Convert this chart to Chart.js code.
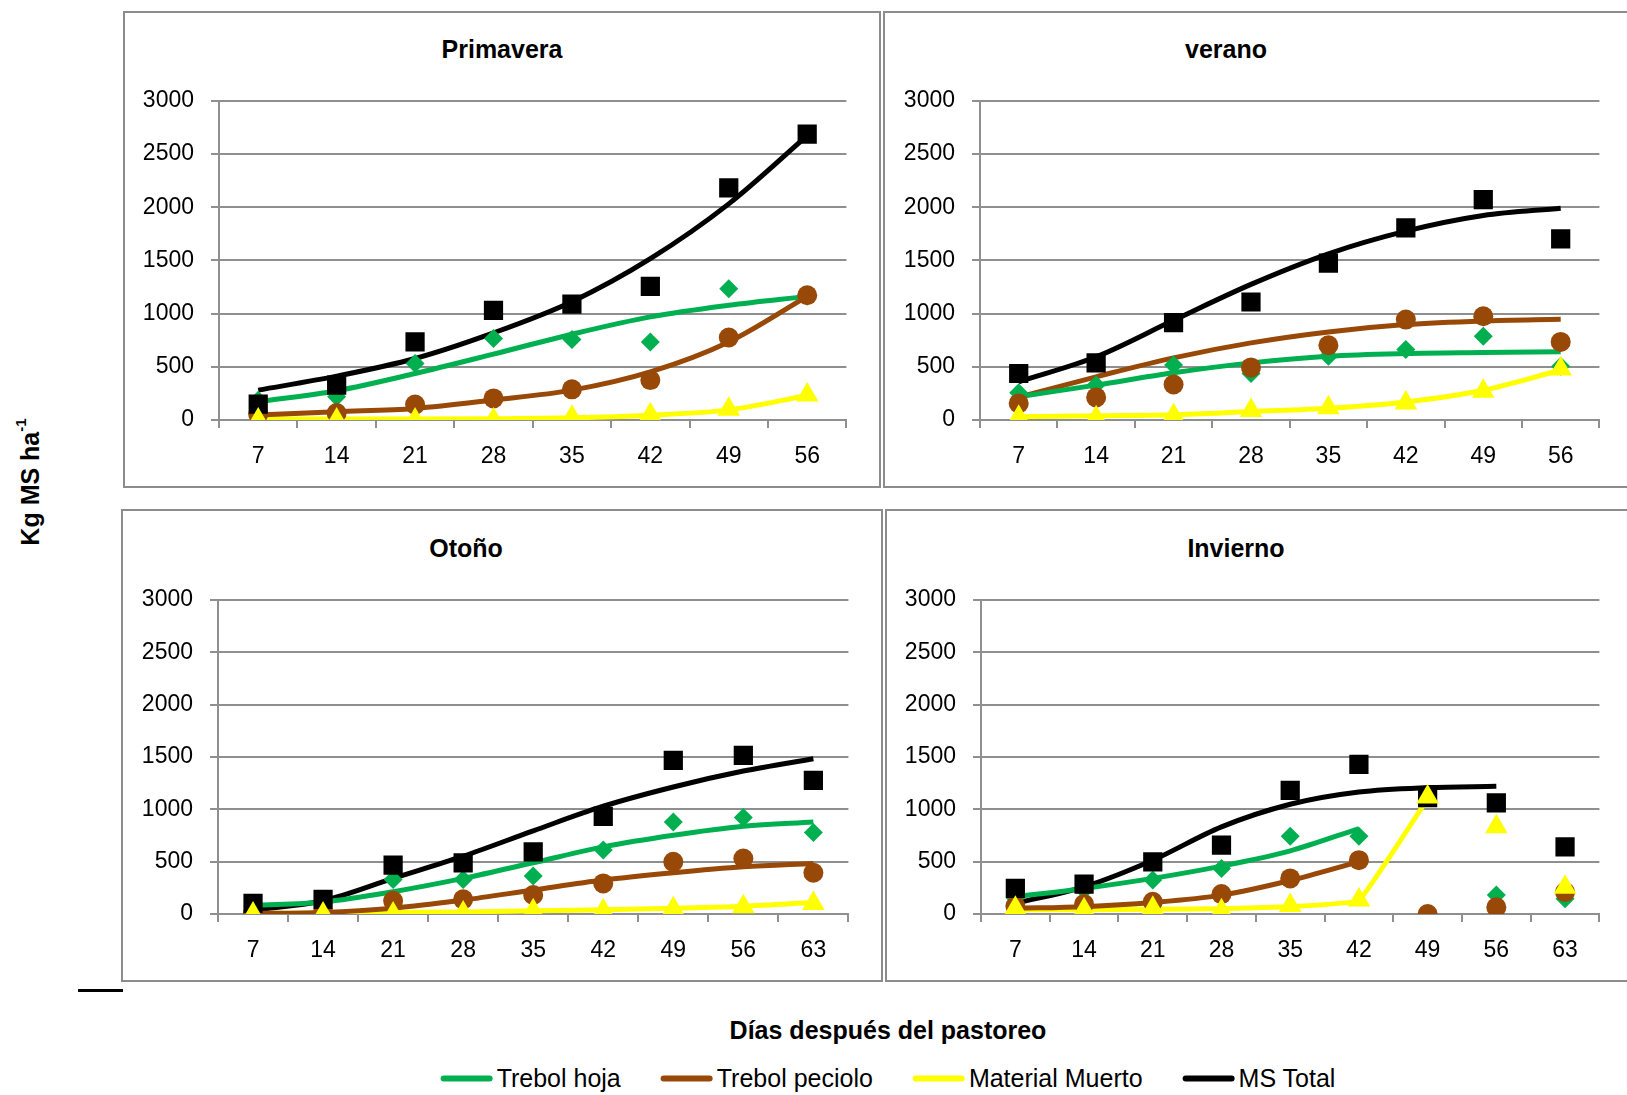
<!DOCTYPE html>
<html lang="es">
<head>
<meta charset="utf-8">
<title>Acumulación de materia seca por estación</title>
<script src="https://cdn.jsdelivr.net/npm/chart.js@4.4.1/dist/chart.umd.min.js"></script>
<style>
  html, body { margin: 0; padding: 0; background: #fff; }
  body { position: relative; width: 1627px; height: 1095px; overflow: hidden;
         font-family: 'Liberation Sans', Arial, sans-serif; color: #000; }
  .frame { position: absolute; border: 2px solid #8c8c8c; box-sizing: border-box; background: #fff; }
  .panel-title { position: absolute; font-weight: bold; font-size: 25px; white-space: nowrap;
                 transform: translate(-50%, -50%); }
  canvas { position: absolute; }
  #ytitle { position: absolute; left: 30px; top: 482px; font-weight: bold; font-size: 25px;
            white-space: nowrap; transform: translate(-50%, -50%) rotate(-90deg); }
  #ytitle sup { font-size: 15px; position: relative; top: -3px; }
  #xtitle { position: absolute; left: 888px; top: 1030px; font-weight: bold; font-size: 25px;
            white-space: nowrap; transform: translate(-50%, -50%); }
  #legend { position: absolute; left: 888px; top: 1078px; transform: translate(-50%, -50%);
            display: flex; align-items: center; gap: 40px; font-size: 25px; white-space: nowrap; }
  .legend-item { display: flex; align-items: center; gap: 4px; }
  .swatch { width: 52px; height: 6px; border-radius: 3px; display: inline-block; }
  #dash { position: absolute; left: 78px; top: 989px; width: 45px; height: 3px; background: #000; }
</style>
</head>
<body>

<div class="frame" style="left:123px; top:11px; width:758px; height:477px;"></div>
<div class="frame" style="left:883px; top:11px; width:760px; height:477px;"></div>
<div class="frame" style="left:121px; top:509px; width:762px; height:473px;"></div>
<div class="frame" style="left:885px; top:509px; width:760px; height:473px;"></div>

<canvas id="primavera"></canvas>
<canvas id="verano"></canvas>
<canvas id="otono"></canvas>
<canvas id="invierno"></canvas>

<div class="panel-title" style="left:502px; top:49px;">Primavera</div>
<div class="panel-title" style="left:1226px; top:49px;">verano</div>
<div class="panel-title" style="left:466px; top:548px;">Otoño</div>
<div class="panel-title" style="left:1236px; top:548px;">Invierno</div>

<div id="ytitle">Kg MS ha<sup>-1</sup></div>
<div id="dash"></div>
<div id="xtitle">Días después del pastoreo</div>
<div id="legend"></div>

<script>
// Days after grazing (x categories)
const days8 = ['7', '14', '21', '28', '35', '42', '49', '56'];
const days9 = ['7', '14', '21', '28', '35', '42', '49', '56', '63'];

// Series names and colours
const seriesNames = ['Trebol hoja', 'Trebol peciolo', 'Material Muerto', 'MS Total'];
const seriesColors = ['#00B050', '#984807', '#FFFF00', '#000000'];

// Y axis (kg MS/ha)
const yMin = 0;
const yMax = 3000;
const yStep = 500;

// ---- Primavera: measured points and fitted curves ----
const hojaPrimaveraObs   = [185, 219, 531, 766, 756, 734, 1234, 1165];
const hojaPrimaveraFit   = [172, 275, 437, 619, 806, 969, 1078, 1162];
const pecioloPrimaveraObs = [55, 65, 145, 203, 288, 375, 775, 1172];
const pecioloPrimaveraFit = [47, 78, 109, 188, 281, 453, 734, 1162];
const muertoPrimaveraObs = [0, 0, 0, 0, 25, 50, 100, 234];
const muertoPrimaveraFit = [10, 10, 10, 12, 20, 45, 95, 230];
const totalPrimaveraObs  = [150, 328, 734, 1031, 1090, 1256, 2181, 2687];
const totalPrimaveraFit  = [281, 412, 578, 819, 1112, 1516, 2031, 2672];

// ---- Verano ----
const hojaVeranoObs    = [256, 328, 516, 437, 600, 662, 788, 506];
const hojaVeranoFit    = [219, 328, 444, 537, 600, 625, 634, 641];
const pecioloVeranoObs = [156, 212, 334, 494, 703, 944, 975, 734];
const pecioloVeranoFit = [215, 406, 584, 725, 828, 897, 931, 947];
const muertoVeranoObs  = [25, 20, 40, 90, 115, 160, 270, 480];
const muertoVeranoFit  = [30, 40, 50, 80, 110, 170, 280, 470];
const totalVeranoObs   = [437, 537, 916, 1109, 1475, 1806, 2072, 1703];
const totalVeranoFit   = [359, 594, 937, 1275, 1562, 1775, 1922, 1991];

// ---- Otoño ----
const hojaOtonoObs    = [70, 100, 330, 330, 362, 610, 879, 921, 778];
const hojaOtonoFit    = [82, 115, 213, 340, 489, 641, 752, 838, 879];
const pecioloOtonoObs = [10, 20, 127, 140, 181, 292, 498, 530, 394];
const pecioloOtonoFit = [5, 15, 56, 133, 229, 324, 394, 451, 483];
const muertoOtonoObs  = [0, 0, 0, 10, 30, 30, 50, 70, 100];
const muertoOtonoFit  = [5, 10, 15, 20, 30, 40, 55, 75, 110];
const totalOtonoObs   = [102, 140, 467, 489, 594, 933, 1467, 1514, 1276];
const totalOtonoFit   = [38, 127, 340, 552, 794, 1029, 1213, 1365, 1483];

// ---- Invierno ----
const hojaInviernoObs    = [150, 229, 324, 435, 743, 743, null, 181, 145];
const hojaInviernoFit    = [165, 244, 340, 457, 603, 816, null, null, null];
const pecioloInviernoObs = [76, 95, 117, 190, 340, 514, 0, 64, 209];
const pecioloInviernoFit = [55, 70, 110, 180, 320, 500, null, null, null];
const muertoInviernoObs  = [54, 40, 54, 30, 80, 133, 1118, 832, 255];
const muertoInviernoFit  = [40, 40, 45, 50, 70, 130, 1100, null, null];
const totalInviernoObs   = [244, 286, 498, 657, 1181, 1429, 1111, 1060, 641];
const totalInviernoFit   = [102, 260, 514, 832, 1048, 1165, 1207, 1219, null];

// ---- Drawing ----
Chart.defaults.font.family = "'Liberation Sans', Arial, sans-serif";
Chart.defaults.color = '#000';

const markerStyle = [
  { shape: 'rectRot',  radius: 9.5 },
  { shape: 'circle',   radius: 10 },
  { shape: 'triangle', radius: 13 },
  { shape: 'rect',     radius: 13.6 }
];
// marker stacking: yellow on top, then black, brown, green
const markerOrder = [3, 2, 0, 1];

const Y_AXIS_W = 110, X_AXIS_H = 60, PAD_TOP = 30, PAD_RIGHT = 10;
const gridGray = '#8f8f8f';

// curve: per-series smoothing ('monotone' or a plain bezier tension value)
function buildPanel(id, labels, obs, fit, area, curve) {
  const canvas = document.getElementById(id);
  const w = (area.right - area.left) + Y_AXIS_W + PAD_RIGHT;
  const h = (area.bottom - area.top) + PAD_TOP + X_AXIS_H;
  canvas.width = w; canvas.height = h;
  canvas.style.left = (area.left - Y_AXIS_W) + 'px';
  canvas.style.top = (area.top - PAD_TOP) + 'px';
  canvas.style.width = w + 'px'; canvas.style.height = h + 'px';

  const datasets = [];
  seriesNames.forEach((name, i) => {
    const c = curve ? curve[i] : 'monotone';
    const smooth = c === 'monotone'
      ? { cubicInterpolationMode: 'monotone' }
      : { cubicInterpolationMode: 'default', tension: c };
    datasets.push(Object.assign({
      label: name,
      data: fit[i],
      borderColor: seriesColors[i],
      backgroundColor: seriesColors[i],
      borderWidth: 5,
      pointRadius: 0,
      pointHoverRadius: 0,
      spanGaps: false,
      fill: false,
      order: 10 + i
    }, smooth));
  });
  seriesNames.forEach((name, i) => {
    datasets.push({
      label: name + ' (observado)',
      data: obs[i],
      showLine: false,
      pointStyle: markerStyle[i].shape,
      pointRadius: markerStyle[i].radius,
      pointHoverRadius: markerStyle[i].radius,
      pointBackgroundColor: seriesColors[i],
      pointBorderColor: seriesColors[i],
      pointBorderWidth: 0,
      order: markerOrder[i]
    });
  });

  return new Chart(canvas, {
    type: 'line',
    data: { labels: labels, datasets: datasets },
    options: {
      responsive: false,
      animation: false,
      devicePixelRatio: 1,
      layout: { padding: { top: PAD_TOP, right: PAD_RIGHT, left: 0, bottom: 0 } },
      plugins: { legend: { display: false }, tooltip: { enabled: false }, title: { display: false } },
      scales: {
        x: {
          type: 'category',
          offset: true,
          afterFit: s => { s.height = X_AXIS_H; },
          border: { display: true, color: gridGray, width: 2 },
          grid: { offset: true, drawOnChartArea: false, drawTicks: true, tickLength: 8,
                  color: gridGray, lineWidth: 2 },
          ticks: { font: { size: 23 }, color: '#000', padding: 15, maxRotation: 0, autoSkip: false }
        },
        y: {
          min: yMin, max: yMax,
          afterFit: s => { s.width = Y_AXIS_W; },
          border: { display: true, color: gridGray, width: 2 },
          grid: { color: gridGray, lineWidth: 2, drawTicks: true, tickLength: 8 },
          ticks: { stepSize: yStep, font: { size: 23 }, color: '#000', padding: 17,
                   callback: v => String(v) }
        }
      }
    }
  });
}

buildPanel('primavera', days8,
  [hojaPrimaveraObs, pecioloPrimaveraObs, muertoPrimaveraObs, totalPrimaveraObs],
  [hojaPrimaveraFit, pecioloPrimaveraFit, muertoPrimaveraFit, totalPrimaveraFit],
  { left: 219, top: 100, right: 850, bottom: 420 });

buildPanel('verano', days8,
  [hojaVeranoObs, pecioloVeranoObs, muertoVeranoObs, totalVeranoObs],
  [hojaVeranoFit, pecioloVeranoFit, muertoVeranoFit, totalVeranoFit],
  { left: 980, top: 100, right: 1603, bottom: 420 });

buildPanel('otono', days9,
  [hojaOtonoObs, pecioloOtonoObs, muertoOtonoObs, totalOtonoObs],
  [hojaOtonoFit, pecioloOtonoFit, muertoOtonoFit, totalOtonoFit],
  { left: 218, top: 599, right: 852, bottom: 914 });

// the dead-material curve rises abruptly after day 42, so it gets a light bezier instead
buildPanel('invierno', days9,
  [hojaInviernoObs, pecioloInviernoObs, muertoInviernoObs, totalInviernoObs],
  [hojaInviernoFit, pecioloInviernoFit, muertoInviernoFit, totalInviernoFit],
  { left: 981, top: 599, right: 1603, bottom: 914 },
  ['monotone', 'monotone', 0.08, 'monotone']);

// Legend built from the series definitions
const legend = document.getElementById('legend');
seriesNames.forEach((name, i) => {
  const item = document.createElement('div');
  item.className = 'legend-item';
  const sw = document.createElement('span');
  sw.className = 'swatch';
  sw.style.background = seriesColors[i];
  const tx = document.createElement('span');
  tx.textContent = name;
  item.appendChild(sw);
  item.appendChild(tx);
  legend.appendChild(item);
});
</script>
</body>
</html>
